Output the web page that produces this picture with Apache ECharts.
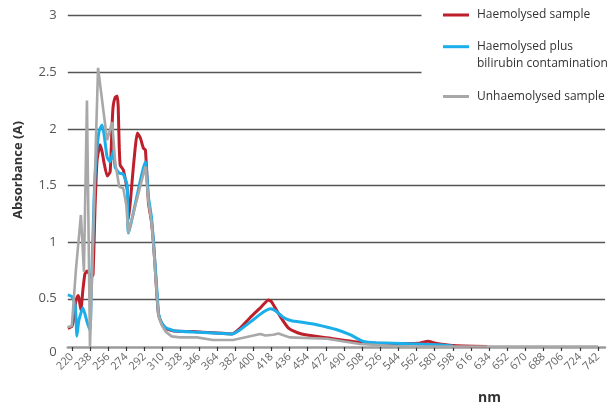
<!DOCTYPE html>
<html>
<head>
<meta charset="utf-8">
<title>Absorbance spectra</title>
<script src="https://cdn.jsdelivr.net/npm/echarts@6/dist/echarts.min.js"></script>
<style>
    html, body {margin: 0; padding: 0; background: #fff;}
    #chart {width: 607px; height: 404px;}
</style>
</head>
<body>
<div id="chart"></div>
<script>
// wavelength axis (nm)
const nmStart = 216;
const nmEnd = 749;
const tickStart = 220;
const tickStep = 18;
const tickEnd = 742;

const seriesNames = ['Haemolysed sample', 'Haemolysed plus bilirubin contamination', 'Unhaemolysed sample'];
const seriesColors = ['#bd1f2b', '#1aaeea', '#a8a8a8'];

// Haemolysed sample
const redNm = [216, 220, 222, 224, 226, 227, 229, 231, 233, 235, 237, 239, 241, 243, 245, 248, 250, 252, 255, 258,
    260, 261, 263, 265, 266, 267, 268, 271, 275, 276, 278, 281, 285, 288, 291, 293, 296, 299, 301, 303, 304, 306, 309,
    313, 316, 321, 340, 360, 379, 387, 397, 407, 415, 418, 427, 435, 444, 453, 473, 506, 539, 565, 573, 582, 598, 632];
const redAbs = [0.24, 0.255, 0.33, 0.48, 0.53, 0.51, 0.40, 0.58, 0.72, 0.745, 0.725, 0.69, 0.71, 1.30, 1.72, 1.86, 1.80, 1.70, 1.585, 1.62,
    2.05, 2.20, 2.28, 2.29, 2.20, 1.85, 1.68, 1.64, 1.46, 1.20, 1.35, 1.66, 1.965, 1.92, 1.83, 1.815, 1.35, 1.18, 0.99, 0.73, 0.58, 0.36, 0.286,
    0.24, 0.227, 0.215, 0.21, 0.20, 0.19, 0.24, 0.335, 0.42, 0.49, 0.475, 0.34, 0.24, 0.20, 0.18, 0.155, 0.115, 0.106, 0.108, 0.124, 0.106, 0.088, 0.079];

// Haemolysed plus bilirubin contamination
const blueNm = [216, 220, 223, 224, 225, 227, 231, 235, 238, 239, 242, 244, 247, 250, 252, 255, 258, 261, 263, 267,
    271, 275, 276, 293, 296, 299, 301, 303, 305, 306, 309, 313, 316, 321, 341, 360, 379, 387, 400, 410,
    417, 422, 430, 438, 450, 463, 483, 496, 509, 522, 555, 582, 598];
const blueAbs = [0.535, 0.52, 0.46, 0.36, 0.17, 0.31, 0.42, 0.30, 0.22, 0.45, 1.37, 1.72, 1.98, 2.035, 1.95, 1.75, 1.71, 1.80, 1.66, 1.61,
    1.60, 1.50, 1.08, 1.71, 1.40, 1.22, 1.00, 0.75, 0.50, 0.37, 0.29, 0.245, 0.235, 0.218, 0.206, 0.198, 0.189, 0.227, 0.315, 0.383,
    0.412, 0.394, 0.335, 0.306, 0.291, 0.271, 0.227, 0.183, 0.124, 0.112, 0.103, 0.094, 0.083];

// Unhaemolysed sample
const grayNm = [216, 220, 224, 229, 232, 235, 238, 242, 246, 255, 260, 263, 267, 271, 274, 276, 293, 296, 299, 301,
    303, 305, 306, 309, 313, 319, 327, 344, 360, 380, 407, 412, 420, 425, 436, 473, 506, 539, 560, 742];
const grayAbs = [0.25, 0.26, 0.75, 1.24, 0.74, 2.25, 0.077, 1.31, 2.54, 1.90, 2.06, 1.71, 1.49, 1.477, 1.33, 1.08, 1.67, 1.36, 1.18, 0.97,
    0.70, 0.46, 0.35, 0.27, 0.21, 0.168, 0.159, 0.159, 0.136, 0.136, 0.189, 0.176, 0.183, 0.194, 0.159, 0.147, 0.10, 0.083, 0.078, 0.078];

const categories = [];
for (let nm = nmStart; nm <= nmEnd; nm++) {
    categories.push(String(nm));
}

const showTick = (index, value) => {
    const nm = Number(value);
    return nm >= tickStart && nm <= tickEnd && (nm - tickStart) % tickStep === 0;
};

const toPairs = (nms, abs) => nms.map((nm, i) => [String(nm), abs[i]]);

// legend text: the long name wraps, first line sits on the icon
const legendLabel = name => name === seriesNames[1] ? ' \nHaemolysed plus\nbilirubin contamination' : name;

const makeLegend = (name, top) => ({
    data: [name],
    orient: 'vertical',
    left: 443,
    top: top,
    padding: 0,
    icon: 'rect',
    itemWidth: 26,
    itemHeight: 3,
    selectedMode: false,
    formatter: legendLabel,
    textStyle: {
        fontFamily: 'Open Sans',
        fontSize: 12,
        color: '#333',
        lineHeight: 17,
        padding: [0, 0, 0, 3]
    }
});

const chart = echarts.init(document.getElementById('chart'));

const option = {
    animation: false,
    backgroundColor: '#fff',
    grid: {left: 67.8, right: 1.94, top: 15.7, bottom: 48.6, outerBoundsMode: 'none'},
    xAxis: {
        type: 'category',
        data: categories,
        boundaryGap: false,
        offset: -8.4,
        name: 'nm',
        nameLocation: 'middle',
        nameGap: 44,
        nameTextStyle: {fontFamily: 'Open Sans', fontSize: 14, fontWeight: 'bold', color: '#333', padding: [0, 0, 0, 306]},
        axisLine: {lineStyle: {color: '#9a9a9a', width: 2.5}},
        axisTick: {interval: showTick, length: 4, lineStyle: {color: '#333', width: 1.2}},
        axisLabel: {interval: showTick, rotate: 45, margin: 8, fontFamily: 'Open Sans', fontSize: 11, color: '#666'},
        splitLine: {show: false}
    },
    yAxis: {
        type: 'value',
        min: 0,
        max: 3,
        interval: 0.5,
        name: 'Absorbance (A)',
        nameLocation: 'middle',
        nameGap: 43,
        nameTextStyle: {fontFamily: 'Open Sans', fontSize: 13, fontWeight: 'bold', color: '#333', padding: [0, 0, 0, 31]},
        axisLine: {show: false},
        axisTick: {show: false},
        axisLabel: {
            margin: 11,
            fontFamily: 'Open Sans',
            fontSize: 13,
            color: '#555',
            // the zero label sits next to the raised x axis line
            formatter: v => v === 0 ? '{zero|0}' : String(v),
            rich: {zero: {fontFamily: 'Open Sans', fontSize: 13, color: '#555', padding: [0, 0, 6, 0]}}
        },
        splitLine: {showMinLine: false, lineStyle: {color: '#555', width: 1.4}}
    },
    legend: [
        makeLegend(seriesNames[0], 6.5),
        makeLegend(seriesNames[1], 21.2),
        makeLegend(seriesNames[2], 88)
    ],
    graphic: {
        elements: [{
            type: 'rect',
            z: 3,
            shape: {x: 421.5, y: 0, width: 186, height: 108},
            style: {fill: '#fff'}
        }]
    },
    series: [
        {name: seriesNames[0], data: toPairs(redNm, redAbs), smooth: 0.15},
        {name: seriesNames[1], data: toPairs(blueNm, blueAbs), smooth: 0.15},
        {name: seriesNames[2], data: toPairs(grayNm, grayAbs), smooth: false}
    ].map((s, i) => Object.assign({
        type: 'line',
        symbol: 'none',
        lineStyle: {color: seriesColors[i], width: i === 2 ? 2.6 : 3},
        itemStyle: {color: seriesColors[i]}
    }, s))
};

chart.setOption(option);
</script>
</body>
</html>
